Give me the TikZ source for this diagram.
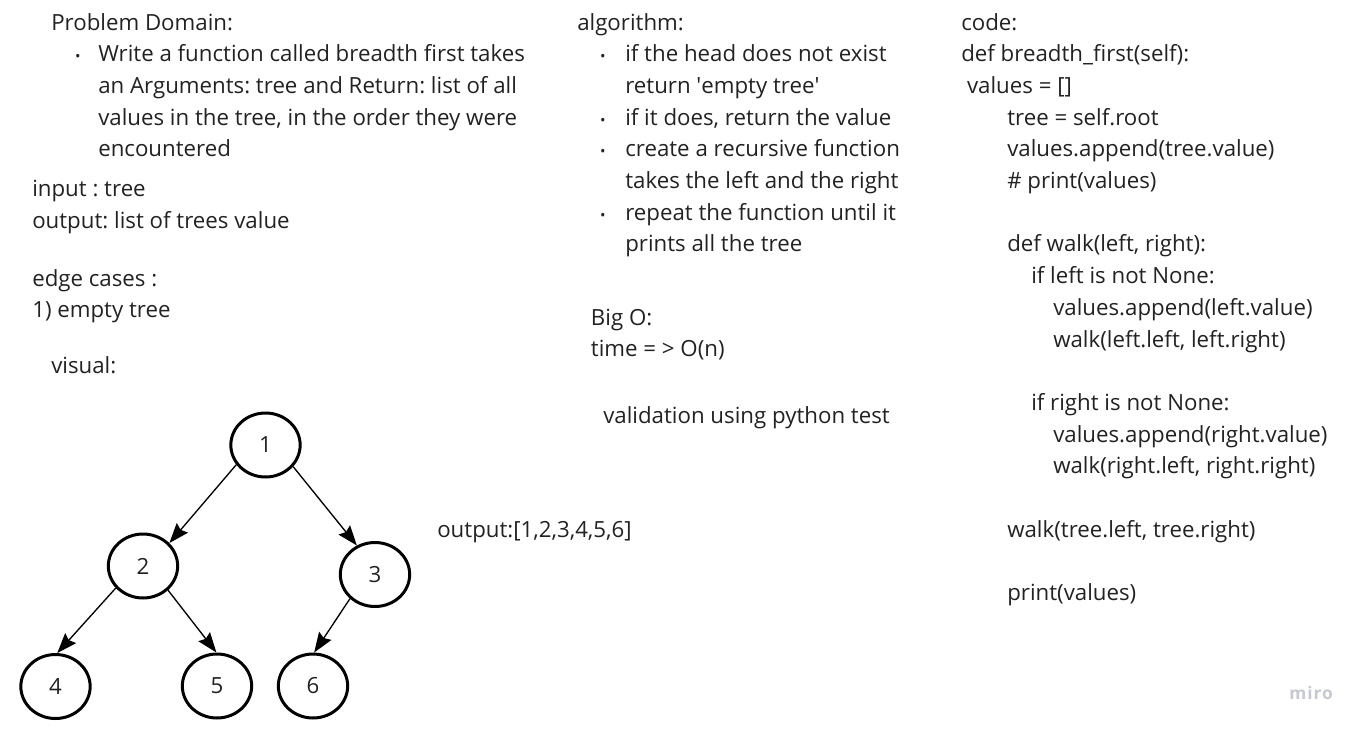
\documentclass[tikz,border=0pt]{standalone}
\usepackage{fontspec}
\setmainfont{Open Sans}
\newfontfamily\mirofont[LetterSpace=6]{Open Sans}
\usetikzlibrary{arrows.meta,shapes.geometric}
\definecolor{ink}{HTML}{222222}
\definecolor{mirogray}{HTML}{C6C8D2}
\frenchspacing
\begin{document}
\begin{tikzpicture}[x=0.75pt,y=-0.75pt,
  txt/.style={anchor=base west,inner sep=0pt,text=ink,font=\fontsize{16.7}{23.8}\selectfont},
  bul/.style={anchor=base,inner sep=0pt,text=ink,font=\fontsize{11}{12}\selectfont},
  tnode/.style={ellipse,draw=black,line width=2.25pt,minimum width=52pt,minimum height=48pt,inner sep=0pt,text=ink,font=\fontsize{16.7}{20}\selectfont},
  conn/.style={draw=black,line width=1pt,-{Stealth[length=15pt,width=11pt,inset=2pt]}}]
\useasboundingbox (0,0) rectangle (1364,732);
% left column
\node[txt] (pd) at (51,30) {Problem Domain:};
\node[bul] (b1) at (78,61.7) {•};
\node[txt] (p1) at (98,61.7) {Write a function called breadth first takes};
\node[txt] (p2) at (98,93.4) {an Arguments: tree and Return: list of all};
\node[txt] (p3) at (98,125.1) {values in the tree, in the order they were};
\node[txt] (p4) at (98,156.8) {encountered};
\node[txt] (in) at (32,196.7) {input : tree};
\node[txt] (out) at (32,228.3) {output: list of trees value};
\node[txt] (ec) at (32,286) {edge cases :};
\node[txt] (ec1) at (32,317) {1) empty tree};
\node[txt] (vis) at (51,373) {visual:};
% middle column
\node[txt] (alg) at (577,30) {algorithm:};
\node[bul] (ab1) at (603,61.7) {•};
\node[bul] (ab2) at (603,125.1) {•};
\node[bul] (ab3) at (603,156.8) {•};
\node[bul] (ab4) at (603,220.2) {•};
\node[txt] (a1) at (625,61.7) {if the head does not exist};
\node[txt] (a2) at (625,93.4) {return \textquotesingle empty tree\textquotesingle};
\node[txt] (a3) at (625,125.1) {if it does, return the value};
\node[txt] (a4) at (625,156.8) {create a recursive function};
\node[txt] (a5) at (625,188.5) {takes the left and the right};
\node[txt] (a6) at (625,220.2) {repeat the function until it};
\node[txt] (a7) at (625,251.9) {prints all the tree};
\node[txt] (bo) at (590.7,325) {Big O:};
\node[txt] (bo1) at (590.7,356.5) {time = > O(n)};
\node[txt] (val) at (603,423.3) {validation using python test};
\node[txt] (res) at (437,537.2) {output:[1,2,3,4,5,6]};
% code column
\node[txt] (c0) at (961,30) {code:};
\node[txt] (c1) at (961,61.7) {def breadth\_first(self):};
\node[txt] (c2) at (961,93.4) {\ values = []};
\node[txt] (c3) at (1007,125.1) {tree = self.root};
\node[txt] (c4) at (1007,156.8) {values.append(tree.value)};
\node[txt] (c5) at (1007,188.5) {\# print(values)};
\node[txt] (c6) at (1007,251.9) {def walk(left, right):};
\node[txt] (c7) at (1031,283.6) {if left is not None:};
\node[txt] (c8) at (1053,315.3) {values.append(left.value)};
\node[txt] (c9) at (1053,347) {walk(left.left, left.right)};
\node[txt] (c10) at (1031,410.4) {if right is not None:};
\node[txt] (c11) at (1053,442.1) {values.append(right.value)};
\node[txt] (c12) at (1053,473.8) {walk(right.left, right.right)};
\node[txt] (c13) at (1007,537.2) {walk(tree.left, tree.right)};
\node[txt] (c14) at (1007,600.6) {print(values)};
% tree
\node[tnode] (n1) at (265.5,445) {1};
\node[tnode] (n2) at (143,566) {2};
\node[tnode] (n3) at (375,574.5) {3};
\node[tnode] (n4) at (55.5,686.5) {4};
\node[tnode] (n5) at (217,686) {5};
\node[tnode] (n6) at (313,686) {6};
\draw[conn] (n1.214.5) -- (n2.41.9);
\draw[conn] (n1.322.5) -- (n3.122.4);
\draw[conn] (n2.219.8) -- (n4.87.5);
\draw[conn] (n2.316) -- (n5.91.7);
\draw[conn] (n3.224.5) -- (n6.88.4);
% watermark
\node[anchor=base west,inner sep=0pt,text=mirogray,font=\mirofont\bfseries\fontsize{13}{14}\selectfont] (miro) at (1289,699) {miro};
\end{tikzpicture}
\end{document}
